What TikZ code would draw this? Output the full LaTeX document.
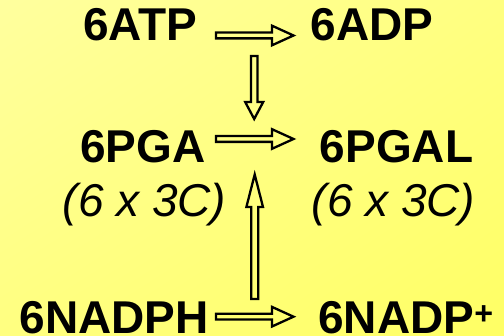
\documentclass[tikz,border=0pt]{standalone}
\usepackage{fontspec}
\setmainfont{Liberation Sans}
\usetikzlibrary{calc,shadings}
\definecolor{bgA}{RGB}{255,255,158}
\definecolor{bgB}{RGB}{255,255,128}
\definecolor{bgC}{RGB}{255,255,100}
\begin{document}
\begin{tikzpicture}[x=1pt,y=1pt,
  lbl/.style={anchor=base, inner sep=0pt, font=\fontsize{46}{54}\selectfont\bfseries},
  ilbl/.style={anchor=base, inner sep=0pt, font=\fontsize{46}{54}\selectfont\itshape},
  blockarrow/.style={draw=black, line width=2.3pt, line join=miter}]
\useasboundingbox (0,0) rectangle (504,336);
\shade[upper left=bgA, upper right=bgB, lower left=bgB, lower right=bgC] (0,0) rectangle (504,336);
% texts
\node[lbl] (atp) at (140.3,295) {6ATP};
\node[lbl] (adp) at (372,295) {6ADP};
\node[lbl] (pga) at (143,173) {6PGA};
\node[lbl] (pgal) at (396.5,173) {6PGAL};
\node[ilbl] (c1) at (144.5,119) {(6 x 3C)};
\node[ilbl] (c2) at (393.5,119) {(6 x 3C)};
\node[lbl] (nadph) at (114,2.5) {6NADPH};
\node[lbl] (nadp) at (406,2.5) {6NADP\textsuperscript{+}};
% arrow anchors
\coordinate (a1) at (216,300.5);
\coordinate (a2) at (216,197);
\coordinate (a3) at (216,19.3);
\coordinate (d1) at (254.2,280);
\coordinate (u1) at (254.7,37);
% horizontal block arrows
\foreach \s in {a1,a2,a3}{
  \draw[blockarrow] (\s) ++(0,2.9) -- ++(56,0) -- ++(0,6.9) -- ++(21.5,-9.8) -- ++(-21.5,-9.8) -- ++(0,6.9) -- ++(-56,0) -- cycle;
}
% down arrow
\draw[blockarrow] (d1) ++(-3.2,0) -- ++(0,-46) -- ++(-5.8,0) -- ++(9,-17) -- ++(9,17) -- ++(-5.8,0) -- ++(0,46) -- cycle;
% up arrow
\draw[blockarrow] (u1) ++(-3.5,0) -- ++(0,92) -- ++(-4.8,0) -- ++(8.3,32.5) -- ++(8.3,-32.5) -- ++(-4.8,0) -- ++(0,-92) -- cycle;
\end{tikzpicture}
\end{document}
